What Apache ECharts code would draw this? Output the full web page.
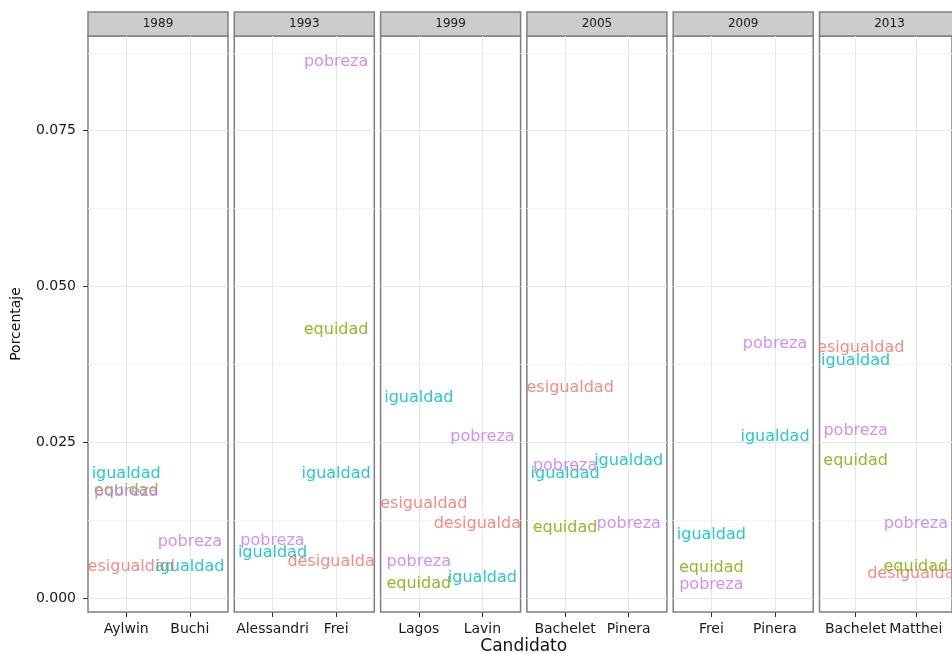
<!DOCTYPE html>
<html>
<head>
<meta charset="utf-8">
<script src="https://cdn.jsdelivr.net/npm/echarts@6/dist/echarts.min.js"></script>
<style>
html,body{margin:0;padding:0;background:#fff;}
#chart{width:952px;height:654px;}
</style>
</head>
<body>
<div id="chart"></div>
<script>
// datos por panel (año) y candidato
const years=['1989','1993','1999','2005','2009','2013'];
const candidatos=[['Aylwin','Buchi'],['Alessandri','Frei'],['Lagos','Lavin'],['Bachelet','Pinera'],['Frei','Pinera'],['Bachelet','Matthei']];
// cada lista: [cand1, cand2] por año, null = sin dato
const desigualdad=[[0.0050,null],[null,0.0058],[0.0151,0.0119],[0.0338,null],[null,null],[0.0402,0.0039]];
const equidad=[[0.0172,null],[null,0.0431],[0.0022,null],[0.0112,null],[0.0049,null],[0.0220,0.0050]];
const igualdad=[[0.0199,0.0050],[0.0072,0.0200],[0.0321,0.0032],[0.0200,0.0220],[0.0102,0.0259],[0.0380,null]];
const pobreza=[[0.0170,0.0090],[0.0091,0.0860],[0.0058,0.0259],[0.0212,0.0119],[0.0021,0.0408],[0.0269,0.0119]];
const yTicks=[0,0.025,0.05,0.075];
const yMinor=[0.0125,0.0375,0.0625,0.0875];

const palabras={desigualdad:desigualdad,equidad:equidad,igualdad:igualdad,pobreza:pobreza};
const colores={desigualdad:'#F8766D',equidad:'#7CAE00',igualdad:'#00BFC4',pobreza:'#C77CFF'};

const chart=echarts.init(document.getElementById('chart'));
const P0=88,PW=140,STEP=146.3,TOP=36,BOT=612;

let grids=[],xAxes=[],yAxes=[],series=[],graphic=[];
years.forEach((yr,i)=>{
    const left=P0+i*STEP;
    grids.push({left:left,top:TOP,width:PW,height:BOT-TOP,show:true,borderColor:'#7f7f7f',borderWidth:1.5,backgroundColor:'#fff'});
    xAxes.push({
        gridIndex:i,type:'value',min:0.4,max:2.6,position:'bottom',
        axisLine:{show:false,onZero:false},
        axisTick:{show:true,length:5,lineStyle:{color:'#333'},customValues:[1,2]},
        axisLabel:{customValues:[1,2],margin:10,color:'#1a1a1a',fontSize:14,fontFamily:'DejaVu Sans',
            formatter:v=>candidatos[i][Math.round(v)-1]},
        splitLine:{show:true,lineStyle:{color:'#e6e6e6',width:1}}
    });
    yAxes.push({
        gridIndex:i,type:'value',min:-0.00224,max:0.0902,position:'left',
        axisLine:{show:false,onZero:false},
        axisTick:{show:i===0,length:5,lineStyle:{color:'#333'},customValues:yTicks},
        axisLabel:{show:i===0,customValues:yTicks,margin:12,color:'#1a1a1a',fontSize:14,fontFamily:'DejaVu Sans',
            formatter:v=>v.toFixed(3)},
        splitLine:{show:true,lineStyle:{color:'#e6e6e6',width:1}},
        name:i===0?'Porcentaje':'',nameLocation:'middle',nameGap:65,nameRotate:90,
        nameTextStyle:{color:'#111',fontSize:14,fontFamily:'DejaVu Sans'}
    });
    // eje auxiliar para las líneas menores
    yAxes.push({
        gridIndex:i,type:'value',min:-0.00224,max:0.0902,position:'left',
        axisLine:{show:false,onZero:false},axisLabel:{show:false},
        axisTick:{show:false,customValues:yMinor},
        splitLine:{show:true,lineStyle:{color:'#f5f5f5',width:1}}
    });
    const data=[];
    Object.keys(palabras).forEach(w=>{
        palabras[w][i].forEach((v,j)=>{
            if(v!==null) data.push([j+1,v,w]);
        });
    });
    series.push({
        type:'custom',xAxisIndex:i,yAxisIndex:i*2,clip:true,data:data,
        renderItem:(params,api)=>{
            const p=api.coord([api.value(0),api.value(1)]);
            const w=data[params.dataIndex][2];
            return {type:'text',x:p[0],y:p[1],style:{text:w,fill:colores[w],opacity:0.85,
                font:'16px "DejaVu Sans"',align:'center',verticalAlign:'middle'}};
        }
    });
    // tira superior con el año
    graphic.push({type:'rect',shape:{x:left,y:12,width:PW,height:TOP-12},
        style:{fill:'#cccccc',stroke:'#808080',lineWidth:1.5}});
    graphic.push({type:'text',x:left+PW/2,y:24,style:{text:yr,fill:'#1a1a1a',
        font:'12px "DejaVu Sans"',align:'center',verticalAlign:'middle'}});
});
graphic.push({type:'text',x:P0+(5*STEP+PW)/2,y:647,style:{text:'Candidato',fill:'#111',
    font:'17px "DejaVu Sans"',align:'center',verticalAlign:'middle'}});

chart.setOption({
    animation:false,
    backgroundColor:'#fff',
    grid:grids,xAxis:xAxes,yAxis:yAxes,series:series,graphic:graphic
});
</script>
</body>
</html>
